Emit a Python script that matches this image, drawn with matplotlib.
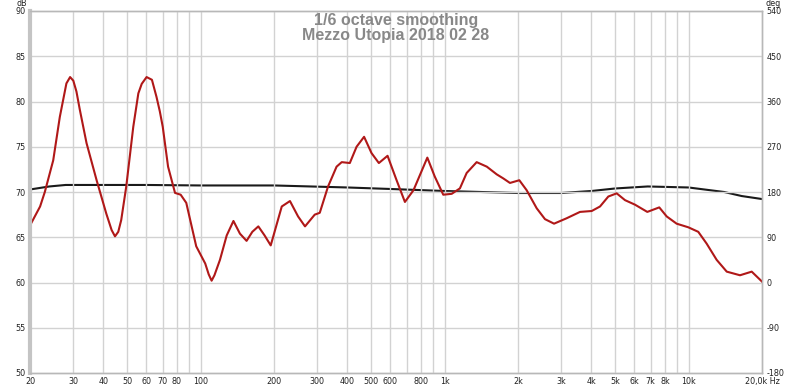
import numpy as np
import matplotlib.pyplot as plt
from matplotlib.ticker import FixedLocator, FixedFormatter, NullLocator

plt.rcParams['axes.unicode_minus'] = False

# SPL trace (red)
freq = [20, 22.0, 23.0, 24.9, 26.5, 28.2, 29.2, 30.1, 31.0, 32.0, 34.1, 37.5, 41.1,
        43.2, 44.6, 46.0, 47.3, 49.6, 53.0, 55.6, 57.4, 60.1, 63.2, 66.0, 68.1, 70.0,
        73.6, 78.6, 82.9, 87.4, 96.0, 104.5, 108.0, 111.0, 114.0, 120.1, 128.0, 136.4,
        145.0, 154.4, 163.0, 172.5, 183.0, 193.9, 215.2, 232.5, 251, 268, 293.8, 308,
        333, 361, 379, 409, 436, 468, 502, 538, 584, 636, 688, 746, 850, 912, 988,
        1070, 1156, 1232, 1354, 1490, 1636, 1741, 1854, 2025, 2170, 2386, 2580, 2810,
        3166, 3590, 4010, 4337, 4690, 5076, 5490, 6032, 6776, 7586, 8136, 8937, 9978,
        10960, 11860, 13040, 14340, 16250, 18150, 20000]
spl = [66.3, 68.4, 70.0, 73.5, 78.3, 82.0, 82.7, 82.3, 81.1, 79.1, 75.4, 71.3, 67.6,
       65.8, 65.1, 65.6, 66.9, 70.6, 77.2, 80.9, 81.95, 82.7, 82.4, 80.5, 78.9, 77.2,
       72.8, 69.9, 69.7, 68.8, 64.0, 62.1, 60.9, 60.2, 60.8, 62.5, 65.2, 66.8,
       65.4, 64.6, 65.6, 66.2, 65.2, 64.1, 68.4, 69.0, 67.3, 66.2, 67.5, 67.7,
       70.6, 72.8, 73.3, 73.2, 75.0, 76.1, 74.3, 73.2, 74.0, 71.3, 68.9, 70.2, 73.8, 71.7,
       69.7, 69.8, 70.4, 72.1, 73.3, 72.8, 71.95, 71.5, 71.0, 71.3, 70.2, 68.2, 67.0,
       66.5, 67.1, 67.8, 67.9, 68.4, 69.5, 69.85, 69.1, 68.6, 67.8, 68.3, 67.3, 66.5,
       66.1, 65.6, 64.3, 62.5, 61.2, 60.8, 61.2, 60.1]

# phase trace (black), degrees on right axis
ph_freq = [20, 24, 28, 40, 60, 100, 200, 400, 600, 1000, 2000, 3000, 4000, 5000,
           6800, 10000, 14000, 16500, 20000]
phase = [185, 191, 194, 194, 194, 193, 193, 189, 186, 182, 178, 178, 182, 187,
         191, 189, 180, 172, 166]

grid_f = [30, 40, 50, 60, 70, 80, 90, 100, 200, 300, 400, 500, 600, 700, 800, 900,
          1000, 2000, 3000, 4000, 5000, 6000, 7000, 8000, 9000, 10000]
lab_f = [20, 30, 40, 50, 60, 70, 80, 100, 200, 300, 400, 500, 600, 800, 1000,
         2000, 3000, 4000, 5000, 6000, 7000, 8000, 10000, 20000]
lab_t = ['20', '30', '40', '50', '60', '70', '80', '100', '200', '300', '400', '500',
         '600', '800', '1k', '2k', '3k', '4k', '5k', '6k', '7k', '8k', '10k', '20,0k Hz']

fig = plt.figure(figsize=(8, 3.89), dpi=100)
ax = fig.add_axes([30/800, 16/389, 732/800, 362/389])
ax.set_xscale('log')
ax.set_xlim(20, 20000)
ax.set_ylim(50, 90)

for f in grid_f:
    ax.axvline(f, color='#d2d2d2', lw=1, zorder=0)
for v in range(55, 90, 5):
    ax.axhline(v, color='#d2d2d2', lw=1, zorder=0)

ax.xaxis.set_major_locator(FixedLocator(lab_f))
ax.xaxis.set_major_formatter(FixedFormatter(lab_t))
ax.xaxis.set_minor_locator(NullLocator())
ax.set_yticks(range(50, 91, 5))
ax.tick_params(length=0, labelsize=5.8, colors='#222222', pad=3)

ax2 = ax.twinx()
ax2.set_ylim(-180, 540)
ax2.set_yticks(range(-180, 541, 90))
ax2.tick_params(length=0, labelsize=5.8, colors='#222222', pad=3)

ax2.plot(ph_freq, phase, color='#1a1a1a', lw=1.5)
ax.plot(freq, spl, color='#b01818', lw=1.5)
ax.set_zorder(ax2.get_zorder() + 1)
ax.patch.set_visible(False)

for a in (ax, ax2):
    for s in a.spines.values():
        s.set_color('#b8b8b8')
        s.set_linewidth(1)
ax.spines['left'].set_linewidth(3)
ax.spines['left'].set_color('#c4c4c4')

fig.text(22/800, 1 - 3/389, 'dB', fontsize=5.8, ha='center', va='center', color='#222222')
fig.text(773/800, 1 - 3/389, 'deg', fontsize=5.8, ha='center', va='center', color='#222222')

ax.text(0.5, 0.995, '1/6 octave smoothing\nMezzo Utopia 2018 02 28', transform=ax.transAxes,
        ha='center', va='top', fontsize=11.5, fontweight='bold', color='#888888',
        family='Liberation Sans', linespacing=1.0)

fig.savefig('out.png', dpi=100, facecolor='white')
